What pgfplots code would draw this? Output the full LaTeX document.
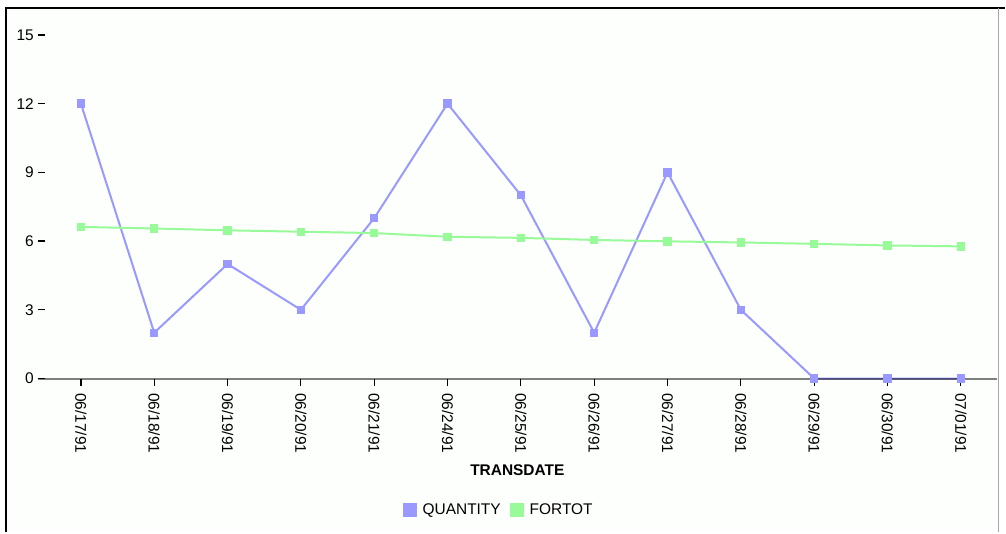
\documentclass[border=0pt]{standalone}
\usepackage{fontspec}
\setmainfont{Liberation Sans}
\usepackage{pgfplots}
\pgfplotsset{compat=1.18}
\definecolor{qcol}{RGB}{153,153,255}
\definecolor{fcol}{RGB}{153,250,153}
\definecolor{bgcol}{RGB}{253,255,252}
\definecolor{axgray}{RGB}{128,128,128}
\begin{document}
\begin{tikzpicture}
\fill[bgcol] (4.5pt,0pt) rectangle (750pt,393.75pt);
\path (0pt,0pt) rectangle (754.5pt,399.75pt);
\begin{axis}[
  at={(28.5pt,115.5pt)}, anchor=south west,
  scale only axis, width=720pt, height=258pt,
  xmin=-0.586, xmax=12.49, ymin=0, ymax=15,
  axis lines=left, axis line style={-},
  x axis line style={draw=axgray, line width=1.5pt, blend mode=multiply},
  y axis line style={draw=none},
  axis on top,
  xtick={0,...,12},
  xticklabels={06/17/91,06/18/91,06/19/91,06/20/91,06/21/91,06/24/91,06/25/91,06/26/91,06/27/91,06/28/91,06/29/91,06/30/91,07/01/91},
  ytick={0,3,6,9,12,15},
  xtick align=outside, ytick align=inside,
  major tick length=5.25pt,
  tick style={black, line width=0.9pt},
  /pgf/number format/assume math mode=true,
  tick label style={font=\fontsize{11.6}{13}\selectfont},
  xticklabel style={rotate=-90, anchor=west, inner sep=0pt},
  xticklabel shift=5.5pt,
  yticklabel style={inner sep=0pt},
  yticklabel shift=3pt,
  xlabel={\textbf{TRANSDATE}},
  xlabel style={at={(axis description cs:0.5,-0.268)}, anchor=center, font=\fontsize{11.6}{13}\selectfont},
  legend style={at={(axis description cs:0.481,-0.384)}, anchor=center, draw=none, fill=none,
    font=\fontsize{11.6}{13}\selectfont, legend columns=-1,
    /tikz/every even column/.append style={column sep=5pt}},
  legend image code/.code={\fill[#1] (0pt,-4.5pt) rectangle (9pt,4.5pt); \path[draw=none,fill=none] (0pt,0pt) -- (12pt,0pt);},
  clip=false,
]
\addplot[color=qcol, line width=1.5pt, mark=square*, mark size=2.4pt, mark options={solid}]
coordinates {(0,12) (1,2) (2,5) (3,3) (4,7) (5,12) (6,8) (7,2) (8,9) (9,3) (10,0) (11,0) (12,0)};
\addlegendentry{QUANTITY}
\addplot[color=fcol, line width=1.5pt, mark=square*, mark size=2.4pt, mark options={solid}]
coordinates {(0,6.62) (1,6.55) (2,6.47) (3,6.41) (4,6.35) (5,6.19) (6,6.14) (7,6.05) (8,5.99) (9,5.94) (10,5.88) (11,5.81) (12,5.77)};
\addlegendentry{FORTOT}
\end{axis}
\draw[black, line width=1.9pt] (4.5pt,0pt) -- (4.5pt,393.75pt) -- (754.5pt,393.75pt);
\draw[axgray!70, line width=1.1pt] (750pt,393.75pt) -- (750pt,0pt);
\end{tikzpicture}
\end{document}
